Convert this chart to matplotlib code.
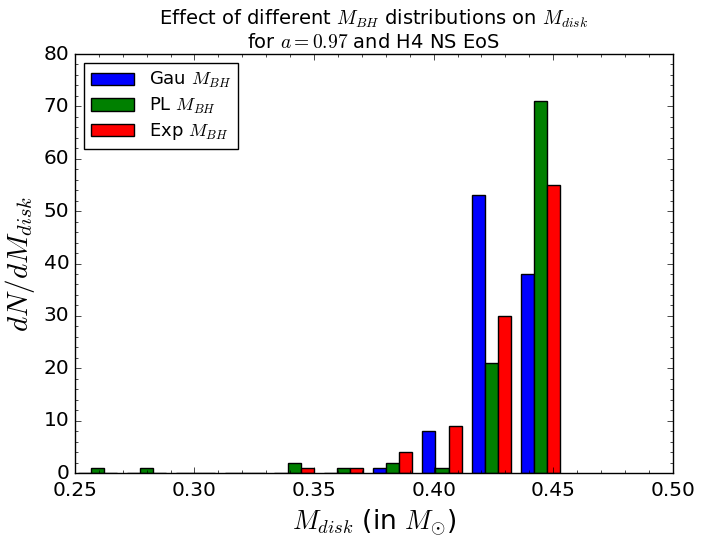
import numpy as np
import matplotlib
matplotlib.use('Agg')
import matplotlib.pyplot as plt
from matplotlib.ticker import MultipleLocator

plt.style.use('classic')

# bin edges of the M_disk histogram
edges = [0.2491, 0.2697, 0.2903, 0.3108, 0.3314, 0.3520,
         0.3726, 0.3932, 0.4138, 0.4343, 0.4549]

gau = [0, 0, 0, 0, 0, 0, 1, 8, 53, 38]
pl = [1, 1, 0, 0, 2, 1, 2, 1, 21, 71]
expo = [0, 0, 0, 0, 1, 1, 4, 9, 30, 55]

labels = ['Gau $M_{BH}$', 'PL $M_{BH}$', 'Exp $M_{BH}$']
colors = ['b', 'g', 'r']

centers = [(edges[i] + edges[i+1]) / 2. for i in range(len(edges) - 1)]

fig = plt.figure(figsize=(7.06, 5.40), dpi=100, facecolor='white')
ax = fig.add_axes([0.106, 0.124, 0.847, 0.776])

ax.hist([centers, centers, centers], bins=edges, weights=[gau, pl, expo],
        color=colors, label=labels)

ax.set_xlim(0.25, 0.50)
ax.set_ylim(0, 80)
ax.xaxis.set_minor_locator(MultipleLocator(0.01))
ax.yaxis.set_minor_locator(MultipleLocator(2))
ax.tick_params(labelsize=14.5)
ax.tick_params(axis='x', pad=6)

ax.set_xlabel(r'$M_{disk}$ (in $M_{\odot}$)', fontsize=19)
ax.set_ylabel(r'$dN/dM_{disk}$', fontsize=21)
ax.set_title('Effect of different $M_{BH}$ distributions on $M_{disk}$\n'
             'for $a=0.97$ and H4 NS EoS', fontsize=14, y=0.998)

ax.legend(loc='upper left', fontsize=13, handlelength=2.4,
          labelspacing=0.3, borderaxespad=0.5)

fig.savefig('out.png', dpi=100, facecolor='white')
